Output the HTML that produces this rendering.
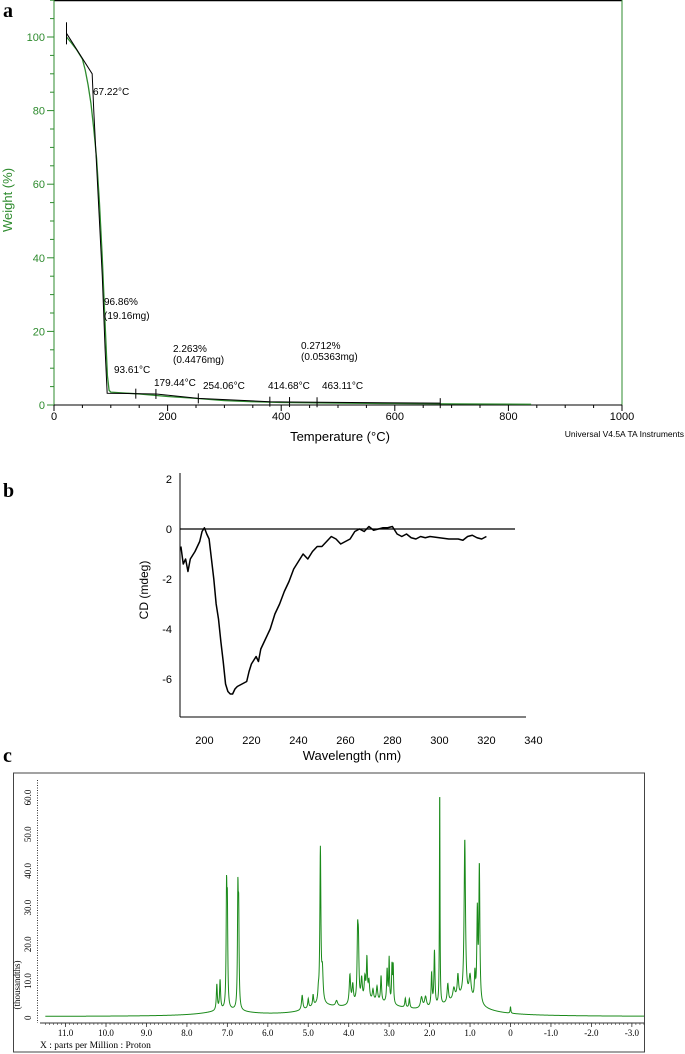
<!DOCTYPE html>
<html><head><meta charset="utf-8"><style>
html,body{margin:0;padding:0;background:#fff}
svg{display:block;font-family:"Liberation Sans",Arial,sans-serif}
.lbl{font-family:"Liberation Serif",serif;font-weight:bold;font-size:20px}
</style></head><body>
<svg id="fig" width="685" height="1054" viewBox="0 0 685 1054">
<text class="lbl" x="3" y="17">a</text>
<text class="lbl" x="3" y="497">b</text>
<text class="lbl" x="3" y="762">c</text>
<g id="ga"></g>
<g id="gb"></g>
<g id="gc"></g>
</svg>
<script>
// ---------- Panel a data ----------
const tgaTemps = [22,30,40,50,55,60,65,70,75,80,85,90,94,97,100,150,200,250,300,350,400,500,600,700,840];
const tgaWeights = [100,98.5,96.5,94,91,87,82,75,67,55,40,22,8,4,3.5,3,2.3,1.8,1.2,0.9,0.7,0.5,0.4,0.3,0.2];
const tgaFitTemps = [22,67.2,70,75,80,85,90,93.6,180,254,380,414,680];
const tgaFitWeights = [101,90,80,65,50,35,15,3.2,3,1.8,0.9,0.8,0.5];
const tgaXTicks = [0,200,400,600,800,1000];
const tgaYTicks = [0,20,40,60,80,100];
const tgaMarkers = [144,179.44,254.06,380,414.68,463.11,680];

// ---------- Panel b data ----------
const cdNm = [190,191,192,193,194,196,198,199,200,201,202,203,204,205,206,207,208,209,210,211,212,213,214,216,218,219,220,222,223,224,226,228,230,232,234,236,238,240,242,244,246,248,250,252,254,256,258,260,262,264,266,268,270,272,274,276,278,280,282,284,286,288,290,292,294,296,300,304,308,310,312,314,316,318,320];
const cdVals = [-0.7,-1.4,-1.2,-1.7,-1.2,-0.9,-0.5,-0.1,0.05,-0.2,-0.4,-1.2,-2.0,-3.0,-3.6,-4.5,-5.3,-6.2,-6.5,-6.6,-6.6,-6.4,-6.3,-6.2,-6.1,-5.7,-5.4,-5.1,-5.3,-4.8,-4.4,-4.0,-3.4,-3.0,-2.5,-2.1,-1.6,-1.3,-1.0,-1.2,-0.9,-0.7,-0.7,-0.5,-0.3,-0.4,-0.6,-0.5,-0.4,-0.1,0.0,-0.1,0.1,-0.05,0.0,0.05,0.05,0.1,-0.2,-0.3,-0.2,-0.35,-0.4,-0.3,-0.35,-0.3,-0.35,-0.4,-0.4,-0.45,-0.3,-0.25,-0.35,-0.4,-0.3];
const cdXTicks = [200,220,240,260,280,300,320,340];
const cdYTicks = [2,0,-2,-4,-6];

// ---------- Panel c data ----------
const nmrPeakPpm = [7.26,7.18,7.02,7.00,6.74,6.72,5.15,5.0,4.88,4.75,4.70,4.65,4.3,3.97,3.9,3.78,3.76,3.68,3.6,3.55,3.5,3.4,3.3,3.2,3.05,3.0,2.93,2.9,2.6,2.5,2.2,2.1,1.95,1.88,1.75,1.55,1.4,1.3,1.13,1.0,0.88,0.82,0.77,0.0];
const nmrPeakHeight = [7,8,30,25,30,24,4,2.5,3,2.5,42,8,1.5,8,5,17,14,6,6,11,5,3,4,7,9,12,10,10,2.5,2.5,3,3,9,15,60,5,3,6,43,6,7,24,37,1.8];
const nmrPeakWidth = [0.015,0.015,0.012,0.012,0.012,0.012,0.02,0.015,0.015,0.015,0.015,0.02,0.03,0.02,0.02,0.015,0.015,0.02,0.02,0.015,0.02,0.02,0.02,0.015,0.015,0.012,0.012,0.012,0.015,0.015,0.03,0.03,0.015,0.015,0.008,0.02,0.03,0.02,0.02,0.03,0.015,0.015,0.015,0.01];
const nmrHumpPpm = [3.4,1.2,7.0,4.7];
const nmrHumpHeight = [3.5,4.5,1.5,2];
const nmrHumpWidth = [0.8,0.5,0.6,0.4];
const nmrXTicks = [11,10,9,8,7,6,5,4,3,2,1,0,-1,-2,-3];
const nmrYTicks = [0,10,20,30,40,50,60];

const NS='http://www.w3.org/2000/svg';
function mk(parent,tag,attrs,text){const e=document.createElementNS(NS,tag);for(const k in attrs)e.setAttribute(k,attrs[k]);if(text!==undefined)e.textContent=text;parent.appendChild(e);return e;}

// ===== Panel A =====
(function(){
const g=document.getElementById('ga');
const xA=t=>54+t*0.568, yA=w=>405-w*3.68;
const G='#2e8b2e';
let e;
e=mk(g,'line',{x1:54,y1:0.5,x2:622,y2:0.5,stroke:'#000','stroke-width':1.5});

e=mk(g,'line',{x1:622,y1:0,x2:622,y2:405,stroke:G,'stroke-width':1});

e=mk(g,'line',{x1:54,y1:0,x2:54,y2:405,stroke:G,'stroke-width':1});

e=mk(g,'line',{x1:54,y1:405,x2:622,y2:405,stroke:'#000','stroke-width':1});

for(let v=0;v<=110;v+=5){const maj=v%20===0;
 e=mk(g,'line',{x1:maj?47:50,y1:yA(v),x2:54,y2:yA(v),stroke:G,'stroke-width':1});
 }
tgaYTicks.forEach(v=>{e=mk(g,'text',{x:45,y:yA(v)+4,'text-anchor':'end','font-size':11,fill:G},String(v));
 });
for(let v=0;v<=1000;v+=50){const maj=v%200===0;
 e=mk(g,'line',{x1:xA(v),y1:405,x2:xA(v),y2:maj?411:408,stroke:'#000','stroke-width':1});
 }
tgaXTicks.forEach(v=>{e=mk(g,'text',{x:xA(v),y:420,'text-anchor':'middle','font-size':11,fill:'#000'},String(v));
 });
e=mk(g,'text',{x:340,y:441,'text-anchor':'middle','font-size':13},'Temperature (°C)');

e=mk(g,'text',{x:12,y:200,'text-anchor':'middle','font-size':13,fill:G,transform:'rotate(-90 12 200)'},'Weight (%)');

e=mk(g,'text',{x:684,y:437,'text-anchor':'end','font-size':8.5},'Universal V4.5A TA Instruments');

e=mk(g,'polyline',{points:tgaTemps.map((t,i)=>xA(t)+','+yA(tgaWeights[i])).join(' '),fill:'none',stroke:G,'stroke-width':1.3});

e=mk(g,'polyline',{points:tgaFitTemps.map((t,i)=>xA(t)+','+yA(tgaFitWeights[i])).join(' '),fill:'none',stroke:'#000','stroke-width':1});

e=mk(g,'line',{x1:xA(22),y1:yA(104),x2:xA(22),y2:yA(98),stroke:'#000','stroke-width':1});

tgaMarkers.forEach(t=>{let w=3;for(let i=0;i<tgaFitTemps.length-1;i++){if(t>=tgaFitTemps[i]&&t<=tgaFitTemps[i+1]){const f=(t-tgaFitTemps[i])/(tgaFitTemps[i+1]-tgaFitTemps[i]);w=tgaFitWeights[i]+f*(tgaFitWeights[i+1]-tgaFitWeights[i]);}}
 e=mk(g,'line',{x1:xA(t),y1:yA(w)-5,x2:xA(t),y2:yA(w)+5,stroke:'#000','stroke-width':1});
 });
const ann=[[93,95,'67.22°C'],[104,305,'96.86%'],[104,319,'(19.16mg)'],[114,373,'93.61°C'],[154,386,'179.44°C'],[203,389,'254.06°C'],[268,389,'414.68°C'],[322,389,'463.11°C'],[173,352,'2.263%'],[173,363,'(0.4476mg)'],[301,349,'0.2712%'],[301,360,'(0.05363mg)']];
ann.forEach(a=>{e=mk(g,'text',{x:a[0],y:a[1],'font-size':10},a[2]);
 });
})();

// ===== Panel B =====
(function(){
const g=document.getElementById('gb');
const xB=n=>204.4+(n-200)*2.35, yB=v=>529-v*25;
let e;
e=mk(g,'line',{x1:180,y1:473,x2:180,y2:717,stroke:'#000','stroke-width':1});

e=mk(g,'line',{x1:180,y1:717,x2:526,y2:717,stroke:'#000','stroke-width':1});

e=mk(g,'line',{x1:180,y1:yB(0),x2:515,y2:yB(0),stroke:'#000','stroke-width':1.3});

cdYTicks.forEach(v=>{e=mk(g,'text',{x:172,y:yB(v)+4,'text-anchor':'end','font-size':11},String(v));
 });
cdXTicks.forEach(v=>{e=mk(g,'text',{x:xB(v),y:744,'text-anchor':'middle','font-size':11},String(v));
 });
e=mk(g,'text',{x:352,y:760,'text-anchor':'middle','font-size':13},'Wavelength (nm)');

e=mk(g,'text',{x:148,y:590,'text-anchor':'middle','font-size':12,transform:'rotate(-90 148 590)'},'CD (mdeg)');

e=mk(g,'polyline',{points:cdNm.map((n,i)=>xB(n)+','+yB(cdVals[i])).join(' '),fill:'none',stroke:'#000','stroke-width':1.5,'stroke-linejoin':'round'});

})();

// ===== Panel C =====
(function(){
const g=document.getElementById('gc');
const xC=p=>510.5-p*40.45, yC=v=>1017.7-v*3.67;
const G='#1a8a1a';
let e;
e=mk(g,'rect',{x:13.5,y:773,width:631,height:279,fill:'none',stroke:'#444','stroke-width':1});

e=mk(g,'line',{x1:37.5,y1:780,x2:37.5,y2:1023,stroke:'#333','stroke-width':1,'stroke-dasharray':'1,1.5'});

e=mk(g,'line',{x1:40,y1:1023,x2:644,y2:1023,stroke:'#333','stroke-width':1});

for(let p=11.5;p>=-3.3;p-=0.1){e=mk(g,'line',{x1:xC(p),y1:1023,x2:xC(p),y2:1025,stroke:'#333','stroke-width':0.6});
 }
nmrXTicks.forEach(v=>{e=mk(g,'line',{x1:xC(v),y1:1023,x2:xC(v),y2:1027,stroke:'#333','stroke-width':0.8});
 
 e=mk(g,'text',{x:xC(v),y:1036,'text-anchor':'middle','font-size':9,'font-family':'Liberation Serif,serif'},v===0?'0':v.toFixed(1));
 });
nmrYTicks.forEach(v=>{const y=yC(v);
 e=mk(g,'text',{x:31,y:y,'text-anchor':'middle','font-size':9,'font-family':'Liberation Serif,serif',transform:'rotate(-90 31 '+y+')'},v===0?'0':v.toFixed(1));
 });
e=mk(g,'text',{x:20,y:985,'text-anchor':'middle','font-size':9,'font-family':'Liberation Serif,serif',transform:'rotate(-90 20 985)'},'(thousandths)');

e=mk(g,'text',{x:40,y:1048,'font-size':9.5,'font-family':'Liberation Serif,serif'},'X : parts per Million : Proton');

const pts=[];
for(let p=11.5;p>=-3.3;p-=0.004){let v=0.3;
 for(let i=0;i<nmrPeakPpm.length;i++){const d=(p-nmrPeakPpm[i])/nmrPeakWidth[i];v+=nmrPeakHeight[i]/(1+d*d);}
 for(let i=0;i<nmrHumpPpm.length;i++){const d=(p-nmrHumpPpm[i])/nmrHumpWidth[i];v+=nmrHumpHeight[i]/(1+d*d);}
 pts.push(xC(p).toFixed(2)+','+yC(v).toFixed(2));}
e=mk(g,'polyline',{points:pts.join(' '),fill:'none',stroke:G,'stroke-width':1});

})();
</script>
</body></html>
